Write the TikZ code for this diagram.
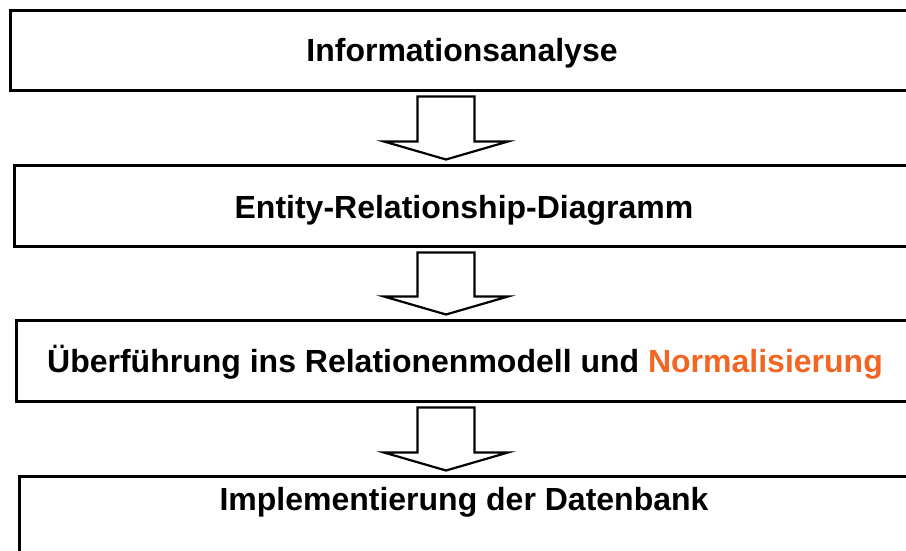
\documentclass[tikz,border=0pt]{standalone}
\usepackage{fontspec}
\setmainfont{Liberation Sans}
\usetikzlibrary{calc}
\definecolor{normorange}{RGB}{242,101,34}
\newcommand\blockarrow[2]{%
  \draw[blockarr] let \p1=(#1.south), \p2=(#2.north), \p3=(ax),
    \n2={\y1-4.5pt}, \n3={\y2+4.5pt}, \n4={\y2+22.5pt} in
    (\x3-28.5pt,\n2) -- (\x3+28.5pt,\n2) -- (\x3+28.5pt,\n4) -- (\x3+62pt,\n4)
    -- (\x3,\n3) -- (\x3-62pt,\n4) -- (\x3-28.5pt,\n4) -- cycle;}
\begin{document}
\begin{tikzpicture}[x=1pt,y=-1pt,
  box/.style={draw=black, line width=3pt, rectangle, inner sep=0pt, anchor=north west},
  steptext/.style={font=\fontsize{32}{38}\selectfont\bfseries, anchor=base, inner sep=0pt},
  blockarr/.style={draw=black, line width=2.2pt, fill=white, line join=miter}]
\path[use as bounding box] (0,0) rectangle (906,550);
\clip (0,0) rectangle (906,550);
\fill[white] (0,0) rectangle (906,550);
\node[box, minimum width=906pt, minimum height=80pt] (box1) at (9,9) {};
\node[box, minimum width=900pt, minimum height=81pt] (box2) at (13,164) {};
\node[box, minimum width=896pt, minimum height=81pt] (box3) at (15,319) {};
\node[box, minimum width=892pt, minimum height=95pt] (box4) at (18,475) {};
\coordinate (ax) at (446,0);
\node[steptext] (t1) at (462,61) {Informationsanalyse};
\node[steptext] (t2) at (464,218) {Entity-Relationship-Diagramm};
\node[steptext] (t3) at (465,372) {Überführung ins Relationenmodell und \textcolor{normorange}{Normalisierung}};
\node[steptext] (t4) at (464,510) {Implementierung der Datenbank};
\blockarrow{box1}{box2}
\blockarrow{box2}{box3}
\blockarrow{box3}{box4}
\end{tikzpicture}
\end{document}
